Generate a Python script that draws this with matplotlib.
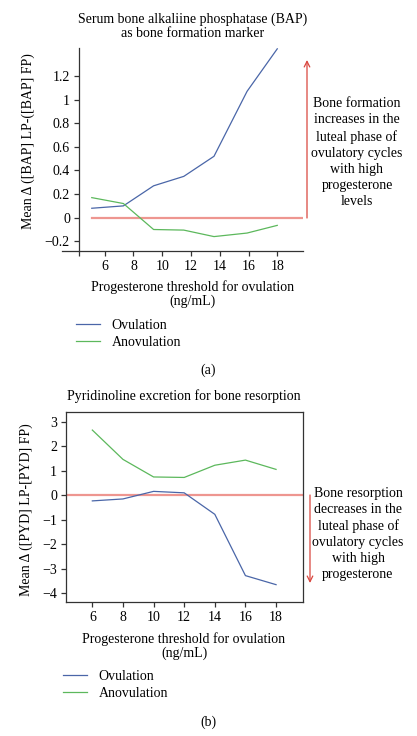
import matplotlib
matplotlib.use('Agg')
import matplotlib.pyplot as plt

plt.rcParams['font.family'] = ['Liberation Serif', 'DejaVu Serif']
plt.rcParams['font.size'] = 10
plt.rcParams['axes.unicode_minus'] = True

W, H = 417, 736

# panel (a): serum BAP
bap_x = [5.1, 7.3, 9.4, 11.5, 13.6, 15.9, 18.0]
bap_ovul = [0.08, 0.10, 0.27, 0.35, 0.52, 1.07, 1.43]
bap_anov = [0.17, 0.12, -0.10, -0.105, -0.16, -0.13, -0.065]
bap_yticks = [-0.2, 0, 0.2, 0.4, 0.6, 0.8, 1, 1.2]
bap_ylabels = ['\u22120.2', '0', '0.2', '0.4', '0.6', '0.8', '1', '1.2']

# panel (b): pyridinoline
pyd_x = [6, 8, 10, 12, 14, 16, 18]
pyd_ovul = [-0.23, -0.15, 0.16, 0.10, -0.78, -3.29, -3.66]
pyd_anov = [2.67, 1.47, 0.75, 0.73, 1.23, 1.44, 1.06]
pyd_yticks = [-4, -3, -2, -1, 0, 1, 2, 3]

xticks = [6, 8, 10, 12, 14, 16, 18]

blue = '#4a66a8'
green = '#5cb85c'
pink = '#ee9690'
red = '#d9463e'
axcol = '#333333'


def fx(px):
    return px / W


def fy(py):
    return 1 - py / H


fig = plt.figure(figsize=(W / 100, H / 100), dpi=100)

# ---------------- (a) ----------------
ax1 = fig.add_axes([fx(62), fy(251), fx(303) - fx(62), fy(48) - fy(251)])
ax1.plot(bap_x, bap_ovul, color=blue, lw=0.9, label='Ovulation')
ax1.plot(bap_x, bap_anov, color=green, lw=0.9, label='Anovulation')
ax1.plot([bap_x[0], 19.79], [0, 0], color=pink, lw=1.6, zorder=1)
ax1.set_xlim(3.03, 19.79)
ax1.set_ylim(-0.282, 1.437)
ax1.spines['top'].set_visible(False)
ax1.spines['right'].set_visible(False)
ax1.spines['left'].set_position(('data', 4.21))
ax1.set_xticks([4.21] + xticks)
ax1.set_xticklabels([''] + [str(t) for t in xticks])
ax1.set_yticks(bap_yticks)
ax1.set_yticklabels(bap_ylabels)
ax1.set_ylabel('Mean \u0394 ([BAP] LP-([BAP] FP)')
fig.text(fx(193), fy(26), 'Serum bone alkaliine phosphatase (BAP)\nas bone formation marker',
         ha='center', va='center', linespacing=1.1)
fig.text(fx(193), fy(294), 'Progesterone threshold for ovulation\n(ng/mL)',
         ha='center', va='center', linespacing=1.1)
fig.legend(handles=ax1.get_lines()[:2], loc='upper left', frameon=False,
           bbox_to_anchor=(fx(76), fy(319)), borderaxespad=0, borderpad=0,
           handlelength=1.7, handletextpad=0.85, labelspacing=0.3)
fig.text(fx(208), fy(370), '(a)', ha='center', va='center')
ax1.annotate('', xy=(fx(307), fy(60)), xytext=(fx(307), fy(218)),
             xycoords='figure fraction', textcoords='figure fraction',
             arrowprops=dict(arrowstyle='->', color=red, lw=0.9, shrinkA=0, shrinkB=0))
fig.text(fx(357), fy(152.5), 'Bone formation\nincreases in the\nluteal phase of\novulatory cycles\nwith high\nprogesterone\nlevels',
         ha='center', va='center', linespacing=1.3)

# ---------------- (b) ----------------
ax2 = fig.add_axes([fx(66), fy(602), fx(303) - fx(66), fy(412) - fy(602)])
ax2.plot(pyd_x, pyd_ovul, color=blue, lw=0.9, label='Ovulation')
ax2.plot(pyd_x, pyd_anov, color=green, lw=0.9, label='Anovulation')
ax2.axhline(0, color=pink, lw=1.6, zorder=1)
ax2.set_xlim(4.28, 19.76)
ax2.set_ylim(-4.37, 3.41)
ax2.set_xticks(xticks)
ax2.set_yticks(pyd_yticks)
ax2.set_ylabel('Mean \u0394 ([PYD] LP-[PYD] FP)')
fig.text(fx(184), fy(396), 'Pyridinoline excretion for bone resorption', ha='center', va='center')
fig.text(fx(184), fy(646), 'Progesterone threshold for ovulation\n(ng/mL)',
         ha='center', va='center', linespacing=1.1)
fig.legend(handles=ax2.get_lines()[:2], loc='upper left', frameon=False,
           bbox_to_anchor=(fx(63), fy(670)), borderaxespad=0, borderpad=0,
           handlelength=1.7, handletextpad=0.85, labelspacing=0.3)
fig.text(fx(208), fy(722), '(b)', ha='center', va='center')
ax2.annotate('', xy=(fx(310), fy(583)), xytext=(fx(310), fy(495)),
             xycoords='figure fraction', textcoords='figure fraction',
             arrowprops=dict(arrowstyle='->', color=red, lw=0.9, shrinkA=0, shrinkB=0))
fig.text(fx(358), fy(534), 'Bone resorption\ndecreases in the\nluteal phase of\novulatory cycles\nwith high\nprogesterone',
         ha='center', va='center', linespacing=1.3)

for ax in (ax1, ax2):
    for s in ax.spines.values():
        s.set_color(axcol)
        s.set_linewidth(0.9)
    ax.tick_params(direction='out', length=3.5, width=0.9, color=axcol, pad=3)

ax1.yaxis.set_label_coords((fx(28) - fx(62)) / (fx(303) - fx(62)),
                           0.5 + (fy(141) - (fy(251) + fy(48)) / 2) / (fy(48) - fy(251)))
ax2.yaxis.set_label_coords((fx(26) - fx(66)) / (fx(303) - fx(66)),
                           0.5 + (fy(510) - (fy(602) + fy(412)) / 2) / (fy(412) - fy(602)))
ax1.yaxis.label.set_va('center')
ax2.yaxis.label.set_va('center')

fig.savefig('out.png', dpi=100)
